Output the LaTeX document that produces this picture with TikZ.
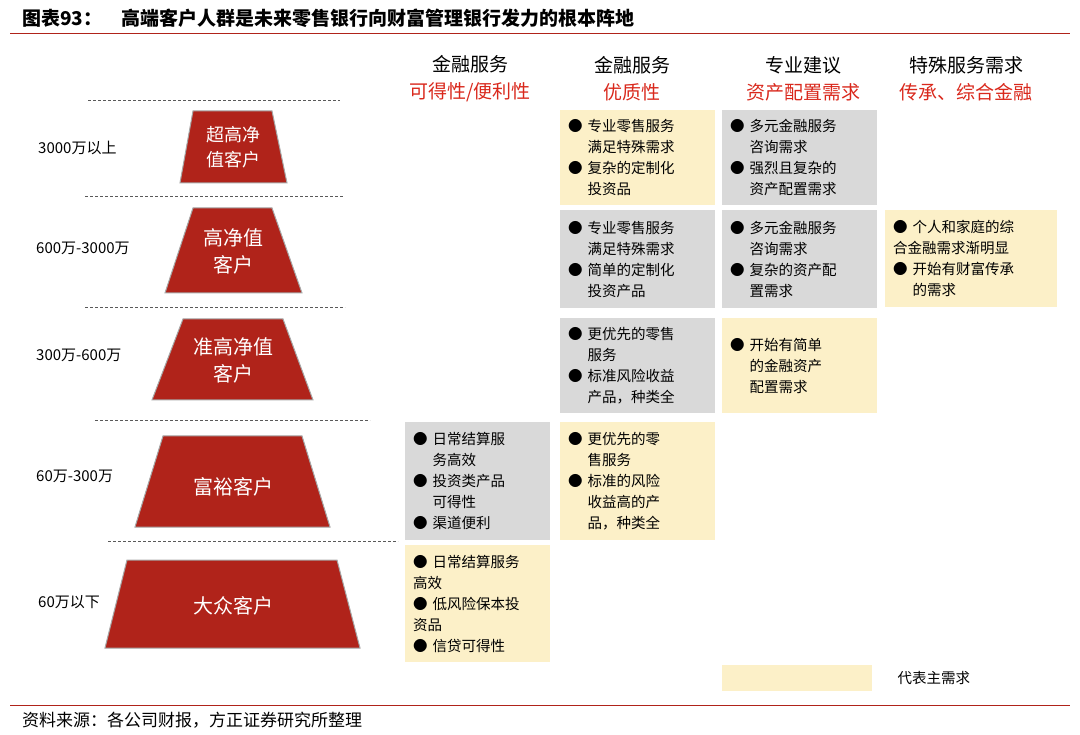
\documentclass[tikz,border=0pt]{standalone}
\usepackage{fontspec}
\setmainfont{Noto Sans CJK SC}
\usetikzlibrary{positioning}
\definecolor{tred}{HTML}{B0231A}
\definecolor{hred}{HTML}{D9281C}
\definecolor{ybox}{HTML}{FCF0C8}
\definecolor{gbox}{HTML}{D9D9D9}
\newcommand{\bl}{●\ }
\newcommand{\ind}{\phantom{●}\ }
\begin{document}
\begin{tikzpicture}[x=1pt,y=-1pt,
   every node/.style={inner sep=0pt},
   need/.style={anchor=north west,align=left,inner xsep=8pt,inner ysep=6pt,
     font=\fontsize{14.5}{21}\selectfont},
   ybx/.style={need,fill=ybox},
   gbx/.style={need,fill=gbox},
   head/.style={align=center,font=\fontsize{19}{27}\selectfont},
   tier/.style={fill=tred,draw=gray!70,line width=1pt},
   tiertext/.style={text=white,align=center,font=\fontsize{20}{27}\selectfont},
   amount/.style={anchor=west,font=\fontsize{15}{18}\selectfont},
   sep/.style={densely dashed,gray!70!black,line width=0.8pt}]
\useasboundingbox (0,0) rectangle (1080,735);
% title and rules
\node[anchor=west,font=\bfseries\fontsize{19}{22}\selectfont] (title) at (22,18)
  {图表93：\quad 高端客户人群是未来零售银行向财富管理银行发力的根本阵地};
\draw[tred,line width=1pt] (10,34) -- (1070,34);
\draw[tred,line width=0.8pt] (10,705) -- (1070,705);
\node[anchor=west,font=\itshape\fontsize{17}{20}\selectfont] (source) at (22,720)
  {资料来源：各公司财报，方正证券研究所整理};
% column headers
\node[head] (h1) at (470,79) {金融服务\\\textcolor{hred}{可得性/便利性}};
\node[head] (h2) at (632,79) {金融服务\\\textcolor{hred}{优质性}};
\node[head] (h3) at (803,79) {专业建议\\\textcolor{hred}{资产配置需求}};
\node[head] (h4) at (966,79) {特殊服务需求\\\textcolor{hred}{传承、综合金融}};
% separators
\draw[sep] (88,100) -- (340,100);
\draw[sep] (85,196) -- (343,196);
\draw[sep] (85,307) -- (345,307);
\draw[sep] (95,420) -- (370,420);
\draw[sep] (108,541) -- (398,541);
% tiers
\draw[tier] (193,111) -- (272,111) -- (287,183) -- (180,183) -- cycle;
\node[tiertext,font=\fontsize{18}{25}\selectfont] (t1) at (233,147) {超高净\\值客户};
\draw[tier] (193,208) -- (272,208) -- (302,293) -- (165,293) -- cycle;
\node[tiertext] (t2) at (233,251) {高净值\\客户};
\draw[tier] (183,319) -- (283,319) -- (313,400) -- (152,400) -- cycle;
\node[tiertext] (t3) at (233,360) {准高净值\\客户};
\draw[tier] (163,436) -- (302,436) -- (330,527) -- (135,527) -- cycle;
\node[tiertext] (t4) at (233,487) {富裕客户};
\draw[tier] (127,560) -- (337,560) -- (360,648) -- (105,648) -- cycle;
\node[tiertext] (t5) at (233,606) {大众客户};
% amounts
\node[amount] (a1) at (38,148) {3000万以上};
\node[amount] (a2) at (36,248) {600万-3000万};
\node[amount] (a3) at (36,355) {300万-600万};
\node[amount] (a4) at (36,476) {60万-300万};
\node[amount] (a5) at (38,602) {60万以下};
% needs
\node[ybx,text width=139pt,minimum height=95pt] (r1c2) at (560,110)
  {\bl 专业零售服务\\\ind 满足特殊需求\\\bl 复杂的定制化\\\ind 投资品};
\node[gbx,text width=139pt,minimum height=95pt] (r1c3) at (722,110)
  {\bl 多元金融服务\\\ind 咨询需求\\\bl 强烈且复杂的\\\ind 资产配置需求};
\node[gbx,text width=139pt,minimum height=98pt] (r2c2) at (560,210)
  {\bl 专业零售服务\\\ind 满足特殊需求\\\bl 简单的定制化\\\ind 投资产品};
\node[gbx,text width=139pt,minimum height=98pt] (r2c3) at (722,210)
  {\bl 多元金融服务\\\ind 咨询需求\\\bl 复杂的资产配\\\ind 置需求};
\node[ybx,text width=156pt,minimum height=97pt] (r2c4) at (885,210)
  {\bl 个人和家庭的综\\合金融需求渐明显\\\bl 开始有财富传承\\\ind 的需求};
\node[gbx,text width=139pt,minimum height=95pt] (r3c2) at (560,318)
  {\bl 更优先的零售\\\ind 服务\\\bl 标准风险收益\\\ind 产品，种类全};
\node[ybx,text width=139pt,minimum height=95pt] (r3c3) at (722,318)
  {\bl 开始有简单\\\ind 的金融资产\\\ind 配置需求};
\node[gbx,text width=129pt,minimum height=118pt] (r4c1) at (405,422)
  {\bl 日常结算服\\\ind 务高效\\\bl 投资类产品\\\ind 可得性\\\bl 渠道便利};
\node[ybx,text width=139pt,minimum height=118pt] (r4c2) at (560,422)
  {\bl 更优先的零\\\ind 售服务\\\bl 标准的风险\\\ind 收益高的产\\\ind 品，种类全};
\node[ybx,text width=129pt,minimum height=117pt] (r5c1) at (405,545)
  {\bl 日常结算服务\\高效\\\bl 低风险保本投\\资品\\\bl 信贷可得性};
% legend
\node[fill=ybox,minimum width=150pt,minimum height=26pt,anchor=north west] (key) at (722,665) {};
\node[font=\fontsize{14.5}{18}\selectfont,right=25pt of key] (keytext) {代表主需求};
\end{tikzpicture}
\end{document}
